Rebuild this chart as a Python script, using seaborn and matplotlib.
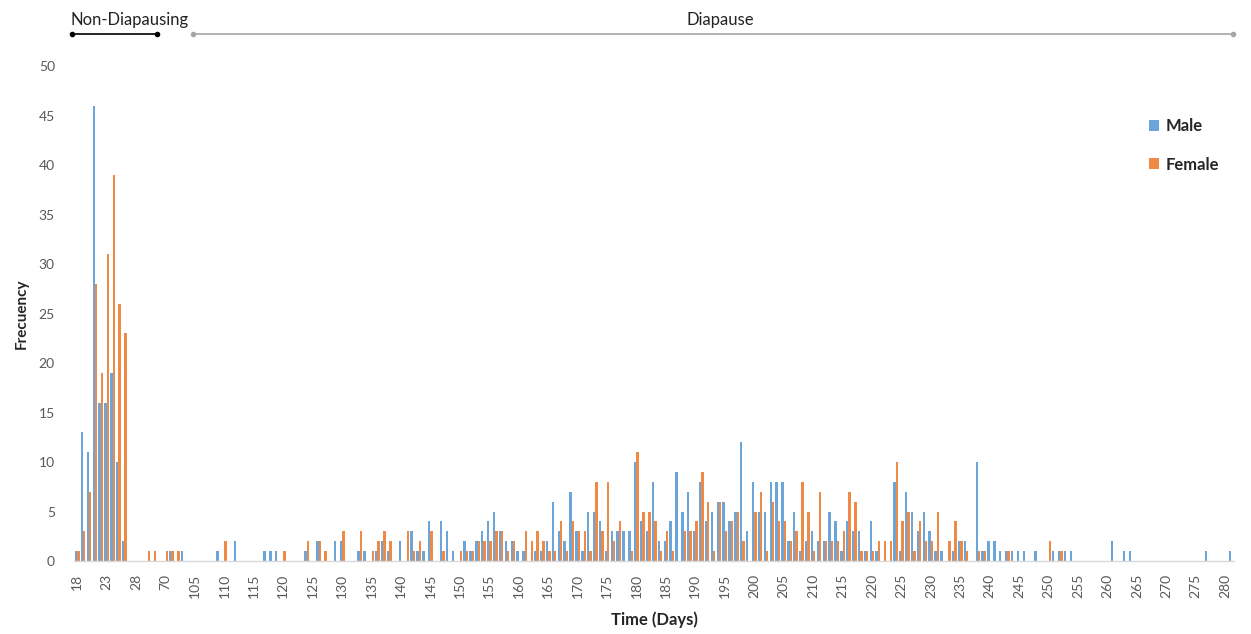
import matplotlib
matplotlib.use("Agg")
import matplotlib.pyplot as plt
import matplotlib.transforms as mtransforms
import seaborn as sns
import pandas as pd

# ---- data ----
days = ([18, 19, 20, 21, 22, 23, 24, 25, 26, 27, 28, 30, 32, 35, 60, 70, 75, 80, 90, 100]
        + list(range(105, 282)))

male = [1, 13, 11, 46, 16, 16, 19, 10, 2, 0, 0, 0, 0, 0, 0, 0, 1, 0, 1, 0,
        0, 0, 0, 0, 1, 0, 0, 2, 0, 0, 0, 0, 1, 1, 1, 0, 0, 0, 0, 1,
        0, 2, 0, 0, 2, 2, 0, 0, 1, 1, 0, 1, 2, 1, 0, 2, 0, 3, 1, 1,
        4, 0, 4, 3, 1, 0, 2, 1, 2, 3, 4, 5, 3, 2, 2, 1, 1, 0, 1, 1,
        2, 6, 3, 2, 7, 3, 1, 5, 5, 4, 1, 3, 3, 3, 3, 10, 4, 3, 8, 2,
        2, 4, 9, 5, 7, 3, 8, 4, 5, 6, 6, 4, 5, 12, 3, 8, 5, 5, 8, 8,
        8, 2, 5, 1, 2, 3, 2, 2, 5, 4, 1, 4, 3, 3, 1, 4, 1, 0, 0, 8,
        1, 7, 5, 3, 5, 3, 1, 1, 0, 1, 2, 2, 0, 10, 1, 2, 2, 1, 1, 1,
        1, 1, 0, 1, 0, 0, 1, 1, 1, 1, 0, 0, 0, 0, 0, 0, 2, 0, 1, 1,
        0, 0, 0, 0, 0, 0, 0, 0, 0, 0, 0, 0, 1, 0, 0, 0, 1]

female = [1, 3, 7, 28, 19, 31, 39, 26, 23, 0, 0, 0, 1, 1, 0, 1, 1, 1, 0, 0,
          0, 0, 0, 0, 0, 2, 0, 0, 0, 0, 0, 0, 0, 0, 0, 1, 0, 0, 0, 2,
          0, 2, 1, 0, 0, 3, 0, 0, 3, 0, 1, 2, 3, 2, 0, 0, 3, 1, 2, 0,
          3, 0, 1, 0, 0, 1, 1, 1, 2, 2, 2, 3, 3, 1, 2, 0, 3, 2, 3, 2,
          1, 1, 4, 1, 4, 3, 3, 1, 8, 3, 8, 2, 4, 0, 1, 11, 5, 5, 4, 1,
          3, 1, 0, 3, 3, 4, 9, 6, 1, 6, 3, 4, 5, 2, 0, 5, 7, 1, 6, 4,
          4, 2, 3, 8, 5, 1, 7, 2, 2, 2, 3, 7, 6, 1, 1, 1, 2, 2, 2, 10,
          4, 5, 1, 4, 2, 2, 5, 0, 2, 4, 2, 1, 0, 1, 1, 0, 0, 0, 1, 0,
          0, 0, 0, 0, 0, 2, 0, 1, 0, 0, 0, 0, 0, 0, 0, 0, 0, 0, 0, 0,
          0, 0, 0, 0, 0, 0, 0, 0, 0, 0, 0, 0, 0, 0, 0, 0, 0]

series_names = ["Male", "Female"]
colors = ["#5B9BD5", "#ED7D31"]
y_ticks = list(range(0, 55, 5))

# ---- build long-form table ----
labels = [str(d) for d in days]
df = pd.DataFrame({
    "day": labels * 2,
    "count": male + female,
    "sex": [series_names[0]] * len(days) + [series_names[1]] * len(days),
})

sns.set_theme(style="white")
plt.rcParams["font.family"] = ["Lato", "DejaVu Sans"]

fig = plt.figure(figsize=(12.51, 6.34), dpi=100)
ax = fig.add_axes([0.0594, 0.1151, 0.927, 0.7808])

sns.barplot(data=df, x="day", y="count", hue="sex", order=labels,
            hue_order=series_names, palette=colors, saturation=1,
            width=0.8, ax=ax, errorbar=None, linewidth=0, alpha=0.9)

ax.set_xlim(-0.5, len(days) - 0.5)
ax.set_ylim(0, 50)
ax.set_yticks(y_ticks)
ax.set_yticklabels([str(v) for v in y_ticks], fontsize=10, color="#595959")
ax.set_xticks(range(0, len(days), 5))
ax.set_xticklabels(labels[::5], rotation=90, fontsize=10, color="#595959")
ax.tick_params(axis="x", length=0, pad=9)
ax.tick_params(axis="y", length=0, pad=14)

for side in ["top", "right", "left"]:
    ax.spines[side].set_visible(False)
ax.spines["bottom"].set_color("#D9D9D9")
ax.spines["bottom"].set_linewidth(1.0)

ax.set_xlabel("Time (Days)", fontsize=12, fontweight="bold", labelpad=10)
ax.set_ylabel("Frecuency", fontsize=11, fontweight="bold", labelpad=7)

handles, lbls = ax.get_legend_handles_labels()
ax.legend(handles, lbls, loc="upper right", bbox_to_anchor=(1.0, 0.925),
          frameon=False, prop={"weight": "bold", "size": 12},
          handlelength=0.6, handleheight=0.6, labelspacing=1.35,
          handletextpad=0.4)

# ---- period brackets above the plot ----
trans = mtransforms.blended_transform_factory(ax.transData, ax.transAxes)
y_line = 1.064
y_text = 1.093
ax.plot([-0.88, 13.56], [y_line, y_line], transform=trans, clip_on=False,
        color="black", lw=1.2, marker="o", markersize=3)
ax.text(8.9, y_text, "Non-Diapausing", transform=trans, ha="center",
        va="center", fontsize=12, color="#222222")
ax.plot([19.67, 196.3], [y_line, y_line], transform=trans, clip_on=False,
        color="#A6A6A6", lw=1.2, marker="o", markersize=3)
ax.text(109.2, y_text, "Diapause", transform=trans, ha="center",
        va="center", fontsize=12, color="#222222")

fig.savefig("out.png", dpi=100)
